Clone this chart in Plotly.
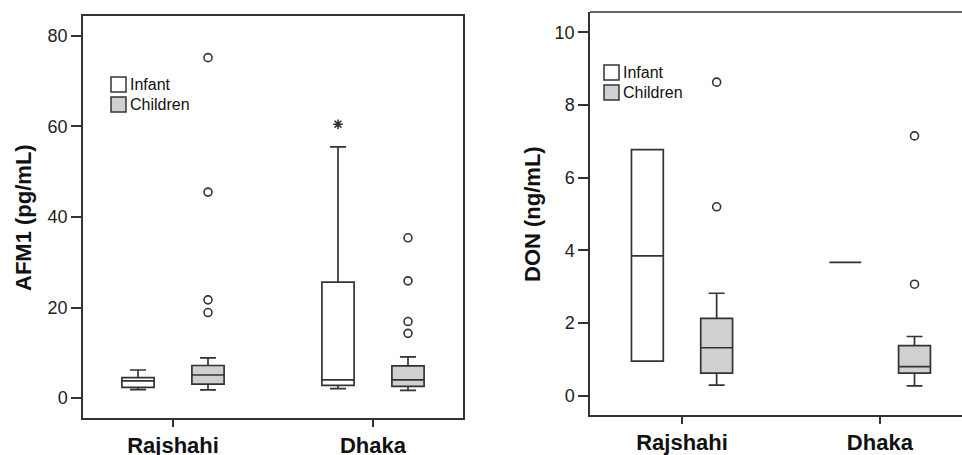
import plotly.graph_objects as go

# ---------------- data ----------------
cities = ["Rajshahi", "Dhaka"]
groups = ["Infant", "Children"]

# AFM1 (pg/mL): box statistics per city
afm1_infant_q1 = [2.35, 2.8]
afm1_infant_median = [3.8, 4.0]
afm1_infant_q3 = [4.5, 25.6]
afm1_infant_lower = [1.85, 2.1]
afm1_infant_upper = [6.2, 55.5]
afm1_infant_points = [[1.85, 6.2], [2.1, 55.5, 60.5]]  # whisker ends + extremes

afm1_children_q1 = [3.1, 2.6]
afm1_children_median = [5.1, 4.0]
afm1_children_q3 = [7.2, 7.1]
afm1_children_lower = [1.8, 1.7]
afm1_children_upper = [8.9, 9.1]
afm1_children_points = [[1.8, 8.9, 75.2, 45.5, 21.7, 18.9],
                        [1.7, 9.1, 35.4, 25.9, 16.9, 14.3]]

# DON (ng/mL)
don_infant_q1 = [0.95, 3.67]
don_infant_median = [3.85, 3.67]
don_infant_q3 = [6.77, 3.67]
don_infant_lower = [0.95, 3.67]
don_infant_upper = [6.77, 3.67]
don_infant_points = [[0.95, 6.77], [3.67]]

don_children_q1 = [0.62, 0.62]
don_children_median = [1.32, 0.80]
don_children_q3 = [2.13, 1.38]
don_children_lower = [0.29, 0.27]
don_children_upper = [2.82, 1.63]
don_children_points = [[0.29, 2.82, 8.63, 5.2], [0.27, 1.63, 7.15, 3.07]]

afm1_ticks = [0, 20, 40, 60, 80]
don_ticks = [0, 2, 4, 6, 8, 10]

# ---------------- styling ----------------
LINE = "#333333"
FILL = {"Infant": "#ffffff", "Children": "#d0d0d0"}
SYMBOL = {"Infant": "asterisk-open", "Children": "circle-open"}
FONT = "Liberation Sans, Arial, sans-serif"

fig = go.Figure()


def add_box(name, xa, ya, q1, med, q3, lo, hi, pts):
    fig.add_trace(go.Box(
        name=name, x=cities, y=pts, orientation="v",
        q1=q1, median=med, q3=q3, lowerfence=lo, upperfence=hi,
        xaxis=xa, yaxis=ya,
        alignmentgroup=xa, offsetgroup=name,
        fillcolor=FILL[name],
        line=dict(color=LINE, width=1.7),
        whiskerwidth=0.5,
        boxpoints="outliers", jitter=0, pointpos=0,
        marker=dict(symbol=SYMBOL[name], size=8, color=LINE,
                    line=dict(color=LINE, width=1.6)),
        showlegend=False,
    ))


add_box("Infant", "x", "y", afm1_infant_q1, afm1_infant_median, afm1_infant_q3,
        afm1_infant_lower, afm1_infant_upper, afm1_infant_points)
add_box("Children", "x", "y", afm1_children_q1, afm1_children_median, afm1_children_q3,
        afm1_children_lower, afm1_children_upper, afm1_children_points)
add_box("Infant", "x2", "y2", don_infant_q1, don_infant_median, don_infant_q3,
        don_infant_lower, don_infant_upper, don_infant_points)
add_box("Children", "x2", "y2", don_children_q1, don_children_median, don_children_q3,
        don_children_lower, don_children_upper, don_children_points)

W, H = 962, 455


def px(x):
    return x / W


def py(y):
    return (H - y) / H


xcommon = dict(type="category", categoryorder="array", categoryarray=cities,
               showline=True, linecolor=LINE, linewidth=1.5,
               ticks="outside", ticklen=7, tickcolor=LINE, tickwidth=1.5,
               ticklabelstandoff=0, automargin=False,
               tickfont=dict(family=FONT, size=22, color="#111", weight="bold"),
               showgrid=False, zeroline=False)
ycommon = dict(showline=True, linecolor=LINE, linewidth=1.5,
               ticks="outside", ticklen=10, tickcolor=LINE, tickwidth=1.5,
               automargin=False,
               tickfont=dict(family=FONT, size=18, color="#222"),
               showgrid=False, zeroline=False)

fig.update_layout(
    width=W, height=H,
    margin=dict(l=0, r=0, t=0, b=0, autoexpand=False),
    paper_bgcolor="white", plot_bgcolor="white",
    boxmode="group", boxgap=0.3, boxgroupgap=0.54,
    xaxis=dict(domain=[px(83), px(463)], range=[-0.45, 1.45], anchor="y",
               mirror=True, **xcommon),
    yaxis=dict(domain=[py(418), py(16)], range=[-4.4, 84.4], anchor="x",
               tickvals=afm1_ticks, mirror=True, **ycommon),
    xaxis2=dict(domain=[px(590), 1.0], range=[-0.465, 1.415], anchor="y2",
                **xcommon),
    yaxis2=dict(domain=[py(415), py(12)], range=[-0.53, 10.56], anchor="x2",
                tickvals=don_ticks, **ycommon),
)

# top frame line of the right panel (its right side is cut off)
fig.add_shape(type="line", xref="x2 domain", yref="y2 domain",
              x0=0, x1=1, y0=1, y1=1, line=dict(color=LINE, width=1.5))

# axis titles
fig.add_annotation(text="<b>AFM1 (pg/mL)</b>", textangle=-90, xref="paper", yref="paper",
                   x=px(24), y=py(218), xanchor="center", yanchor="middle", showarrow=False,
                   font=dict(family=FONT, size=22, color="#111"))
fig.add_annotation(text="<b>DON (ng/mL)</b>", textangle=-90, xref="paper", yref="paper",
                   x=px(532), y=py(214), xanchor="center", yanchor="middle", showarrow=False,
                   font=dict(family=FONT, size=22, color="#111"))

# in-plot legends (one per panel)
legend_pos = [(111, 77), (604, 65)]
for lx, ly in legend_pos:
    for i, g in enumerate(groups):
        y0 = ly + i * 20
        fig.add_shape(type="rect", xref="paper", yref="paper",
                      x0=px(lx), x1=px(lx + 15), y0=py(y0 + 15), y1=py(y0),
                      fillcolor=FILL[g], line=dict(color=LINE, width=1.5))
        fig.add_annotation(text=g, xref="paper", yref="paper",
                           x=px(lx + 17), y=py(y0 + 7.5), xanchor="left", yanchor="middle",
                           showarrow=False,
                           font=dict(family=FONT, size=16, color="#111"))

page_fix = """
document.body.style.margin='0';
document.body.style.overflow='hidden';
var gd=document.getElementById('{plot_id}');
gd.style.overflow='hidden';
if (gd.parentNode) { gd.parentNode.style.overflow='hidden'; gd.parentNode.style.height='455px'; }
"""
fig.write_html("out.html", config={"displayModeBar": False}, post_script=page_fix)
